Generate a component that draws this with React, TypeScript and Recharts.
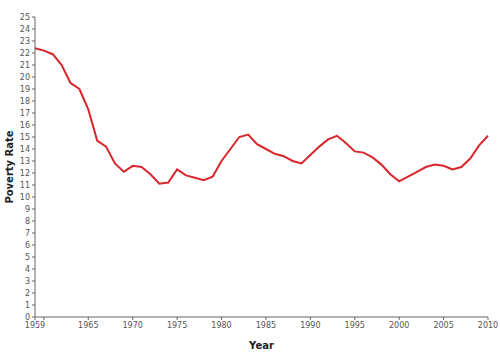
import React from 'react';
import { LineChart, Line, XAxis, YAxis } from 'recharts';

// US poverty rate by year
const years = [
  1959, 1960, 1961, 1962, 1963, 1964, 1965, 1966, 1967, 1968, 1969, 1970, 1971, 1972, 1973, 1974, 1975,
  1976, 1977, 1978, 1979, 1980, 1981, 1982, 1983, 1984, 1985, 1986, 1987, 1988, 1989, 1990, 1991, 1992,
  1993, 1994, 1995, 1996, 1997, 1998, 1999, 2000, 2001, 2002, 2003, 2004, 2005, 2006, 2007, 2008, 2009, 2010,
];
const rates = [
  22.4, 22.2, 21.9, 21.0, 19.5, 19.0, 17.3, 14.7, 14.2, 12.8, 12.1, 12.6, 12.5, 11.9, 11.1, 11.2, 12.3,
  11.8, 11.6, 11.4, 11.7, 13.0, 14.0, 15.0, 15.2, 14.4, 14.0, 13.6, 13.4, 13.0, 12.8, 13.5, 14.2, 14.8,
  15.1, 14.5, 13.8, 13.7, 13.3, 12.7, 11.9, 11.3, 11.7, 12.1, 12.5, 12.7, 12.6, 12.3, 12.5, 13.2, 14.3, 15.1,
];
const xTicks = [1959, 1960, 1965, 1970, 1975, 1980, 1985, 1990, 1995, 2000, 2005, 2010];
const yTicks = Array.from({ length: 26 }, (_, i) => i);

const data = years.map((year, i) => ({ year, rate: rates[i] }));

const font = '"DejaVu Sans", sans-serif';

const App: React.FC = () => {
  return (
    <div style={{ position: 'absolute', left: 0, top: 0, width: 500, height: 352, background: '#fff' }}>
      <LineChart width={500} height={352} data={data} margin={{ top: 17, right: 12, bottom: 0, left: 0 }}>
        <XAxis
          dataKey="year"
          type="number"
          domain={[1959, 2010]}
          ticks={xTicks}
          interval={0}
          tickFormatter={(v: number) => (v === 1960 ? '' : String(v))}
          tick={{ fontSize: 8, fill: '#555', fontFamily: font }}
          tickSize={3}
          stroke="#666"
          height={35}
          label={{ value: 'Year', position: 'insideBottom', offset: 3, fontSize: 10, fontWeight: 'bold', fill: '#222', fontFamily: font }}
        />
        <YAxis
          type="number"
          domain={[0, 25]}
          ticks={yTicks}
          interval={0}
          tick={{ fontSize: 8, fill: '#555', fontFamily: font }}
          tickSize={3}
          stroke="#666"
          width={35}
          label={{ value: 'Poverty Rate', angle: -90, position: 'insideLeft', offset: 9, style: { textAnchor: 'middle' }, fontSize: 10, fontWeight: 'bold', fill: '#222', fontFamily: font }}
        />
        <Line type="linear" dataKey="rate" stroke="#d9262c" strokeWidth={2} dot={false} isAnimationActive={false} />
      </LineChart>
    </div>
  );
};

export default App;
